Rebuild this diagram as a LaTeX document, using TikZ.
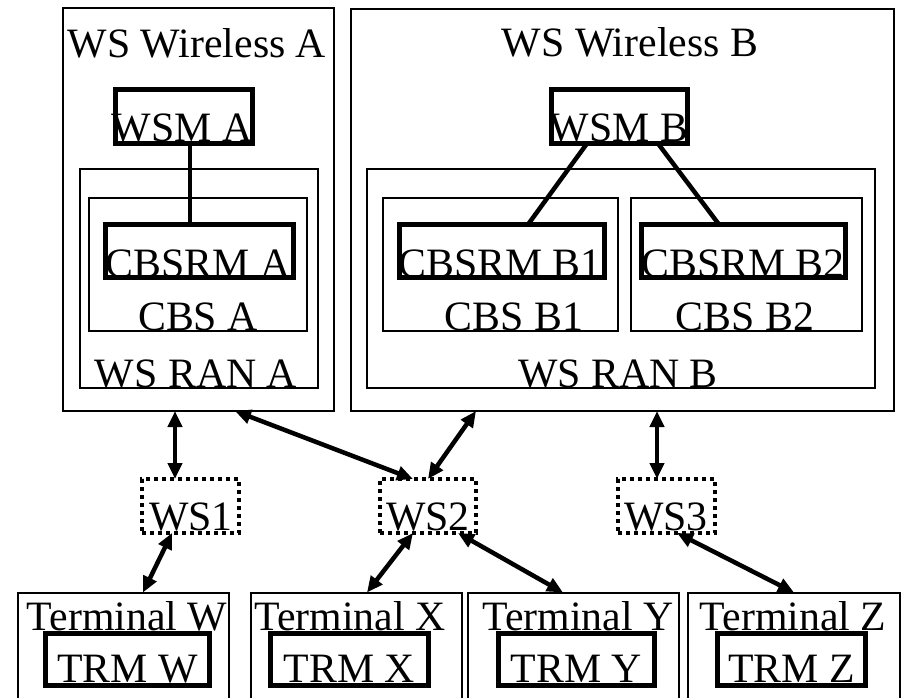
\documentclass[tikz,border=0pt]{standalone}
\usepackage{fontspec}
\setmainfont{Liberation Serif}
\usetikzlibrary{arrows.meta}
\tikzset{
	box/.style={draw, line width=2pt, inner sep=0pt, outer sep=0pt},
	module/.style={draw, line width=5pt, inner sep=0pt, outer sep=0pt},
	station/.style={draw, line width=4pt, dash pattern=on 4pt off 4pt, inner sep=0pt, outer sep=0pt},
	txt/.style={anchor=base, inner sep=0pt, font=\fontsize{41.8}{44}\selectfont},
	duplex/.style={line width=4.5pt, {Triangle[length=16pt,width=14pt]}-{Triangle[length=16pt,width=14pt]}},
	tie/.style={line width=4.5pt}
}

\begin{document}
\begin{tikzpicture}[x=1pt, y=-1pt]
		%%%%% START %%%%%
		\useasboundingbox (0, 0) rectangle (903, 698);
		\clip (0, 0) rectangle (903, 698);
		
		% wireless A
		\node[box, minimum width=271pt, minimum height=403pt] (wlA) at (198.5, 209.5) {};
		\node[box, minimum width=238pt, minimum height=219pt] (ranA) at (199, 278.5) {};
		\node[box, minimum width=218pt, minimum height=133pt] (cbsA) at (198, 264.5) {};
		\node[module, minimum width=137pt, minimum height=54pt] (wsmA) at (184, 116.5) {};
		\node[module, minimum width=188pt, minimum height=53pt] (cbsrmA) at (199.5, 251) {};
		
		\node[txt] (wlA-t) at (197, 58) {WS Wireless A};
		\node[txt] (wsmA-t) at (182, 142) {WSM A};
		\node[txt] (cbsrmA-t) at (198, 277) {CBSRM A};
		\node[txt] (cbsA-t) at (198, 330) {CBS A};
		\node[txt] (ranA-t) at (196, 387) {WS RAN A};
		
		\draw[tie] ([xshift=6pt]wsmA.south) -- ([xshift=6pt]wsmA.south |- cbsrmA.north);
		
		% wireless B
		\node[box, minimum width=543pt, minimum height=402pt] (wlB) at (622.5, 210) {};
		\node[box, minimum width=508pt, minimum height=219pt] (ranB) at (621, 278.5) {};
		\node[box, minimum width=235pt, minimum height=133pt] (cbsB1) at (500.5, 264.5) {};
		\node[box, minimum width=231pt, minimum height=133pt] (cbsB2) at (746.5, 264.5) {};
		\node[module, minimum width=136pt, minimum height=54pt] (wsmB) at (619.5, 116.5) {};
		\node[module, minimum width=205pt, minimum height=53pt] (cbsrmB1) at (502, 251) {};
		\node[module, minimum width=204pt, minimum height=53pt] (cbsrmB2) at (743.5, 251) {};
		
		\node[txt] (wlB-t) at (630, 57) {WS Wireless B};
		\node[txt] (wsmB-t) at (619, 142) {WSM B};
		\node[txt] (cbsrmB1-t) at (500, 277) {CBSRM B1};
		\node[txt] (cbsrmB2-t) at (743, 277) {CBSRM B2};
		\node[txt] (cbsB1-t) at (514, 330) {CBS B1};
		\node[txt] (cbsB2-t) at (745, 330) {CBS B2};
		\node[txt] (ranB-t) at (618, 387) {WS RAN B};
		
		\draw[tie] ([xshift=-32.5pt]wsmB.south) -- ([xshift=26pt]cbsrmB1.north);
		\draw[tie] ([xshift=38.5pt]wsmB.south) -- ([xshift=-24.5pt]cbsrmB2.north);
		
		% stations
		\node[station, minimum width=97pt, minimum height=54pt] (ws1) at (190.5, 506) {};
		\node[station, minimum width=96pt, minimum height=54pt] (ws2) at (428, 506) {};
		\node[station, minimum width=97pt, minimum height=54pt] (ws3) at (666.5, 506) {};
		\node[txt] (ws1-t) at (191, 530) {WS1};
		\node[txt] (ws2-t) at (428, 530) {WS2};
		\node[txt] (ws3-t) at (666, 530) {WS3};
		
		% terminals
		\foreach \n/\cx/\w/\tx/\rx/\rw in {W/123.5/211/127/127.5/164, X/356.5/211/350/349.5/158, Y/573.5/211/578/576.5/156, Z/794/212/793/791.5/148}{
			\node[box, minimum width=\w pt, minimum height=137pt] (term\n) at (\cx, 661) {};
			\node[module, minimum width=\rw pt, minimum height=52pt] (trm\n) at (\rx, 659.5) {};
			\node[txt] (term\n-t) at (\tx, 630) {Terminal \n};
			\node[txt] (trm\n-t) at (\rx, 682) {TRM \n};
		}
		
		% links
		\draw[duplex] ([xshift=-23.5pt]wlA.south) -- ([xshift=-23.5pt]wlA.south |- ws1.north);
		\draw[duplex] ([xshift=36.5pt]wlA.south) -- ([xshift=-15pt]ws2.north);
		\draw[duplex] ([xshift=-146.5pt]wlB.south) -- (ws2.north);
		\draw[duplex] ([xshift=34.5pt]wlB.south) -- ([xshift=34.5pt]wlB.south |- ws3.north);
		\draw[duplex] ([xshift=-18.5pt]ws1.south) -- ([xshift=19.5pt]termW.north);
		\draw[duplex] ([xshift=-15pt]ws2.south) -- ([xshift=10.5pt]termX.north);
		\draw[duplex] ([xshift=30pt]ws2.south) -- ([xshift=-10.5pt]termY.north);
		\draw[duplex] ([xshift=10.5pt]ws3.south) -- (termZ.north);
		%%%%% END %%%%%
	\end{tikzpicture}
\end{document}
